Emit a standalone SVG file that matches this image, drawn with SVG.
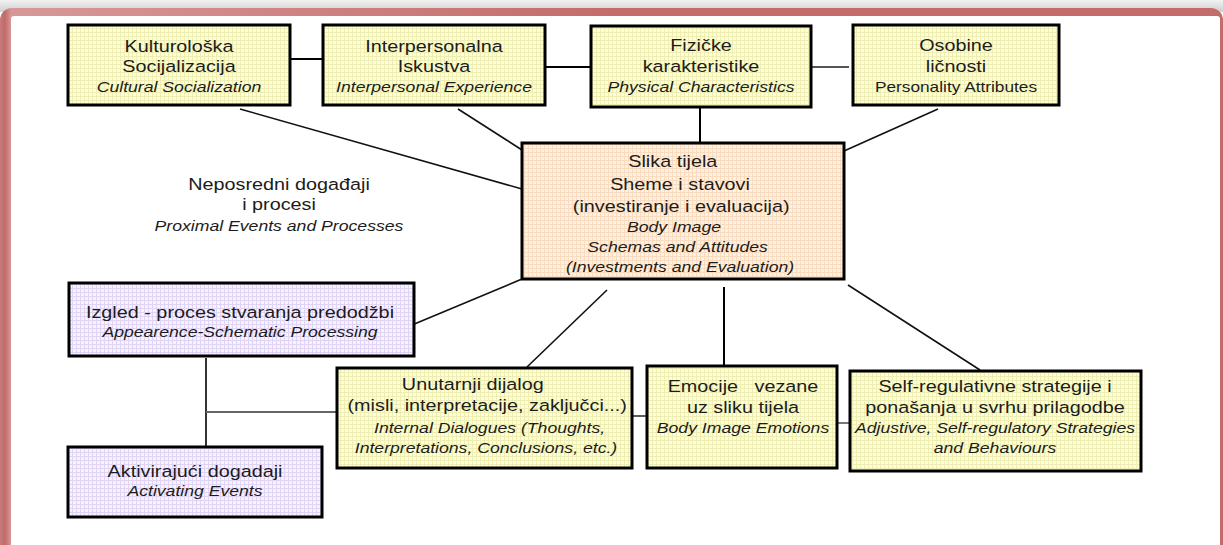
<svg xmlns="http://www.w3.org/2000/svg" width="1223" height="545" viewBox="0 0 1223 545">
<defs>
<style>
.box{stroke:#000;stroke-width:3}
.y{fill:url(#pY)}
.p{fill:url(#pP)}
.o{fill:url(#pO)}
.t{font-family:"Liberation Sans",Arial,sans-serif;font-size:16.5px;fill:#1c1c1c;text-anchor:middle}
.i{font-style:italic;font-size:14.7px}
.s{font-size:14.4px}
.c{stroke:#111;stroke-width:1.6;fill:none}
.k{stroke:#000;stroke-width:2;fill:none}
.g{stroke:#555;stroke-width:2;fill:none}
</style>
<pattern id="pY" width="4" height="4" patternUnits="userSpaceOnUse">
<rect width="4" height="4" fill="#ffffd4"/>
<path d="M0 0.5H4M0.5 0V4" stroke="#eeeeb4" stroke-width="1"/>
</pattern>
<pattern id="pP" width="4" height="4" patternUnits="userSpaceOnUse">
<rect width="4" height="4" fill="#f7f2ff"/>
<path d="M0 0.5H4M0.5 0V4" stroke="#e0d4f4" stroke-width="1"/>
</pattern>
<pattern id="pO" width="4" height="4" patternUnits="userSpaceOnUse">
<rect width="4" height="4" fill="#fff0e2"/>
<path d="M0 0.5H4M0.5 0V4" stroke="#f9dcc0" stroke-width="1"/>
</pattern>
<linearGradient id="shadow" x1="0" y1="0" x2="0" y2="1">
<stop offset="0" stop-color="#f2f2f2"/>
<stop offset="1" stop-color="#cfcfcf"/>
</linearGradient>
<linearGradient id="red" x1="0" y1="0" x2="1" y2="0">
<stop offset="0" stop-color="#c87a7a"/>
<stop offset="0.004" stop-color="#c26a6a"/>
<stop offset="0.009" stop-color="#d89898"/>
<stop offset="0.5" stop-color="#c46c6c"/>
<stop offset="1" stop-color="#c46c6c"/>
</linearGradient>
</defs>

<g id="frame">
<rect width="1223" height="545" fill="#fff"/>
<rect x="0" y="0" width="1223" height="12" fill="url(#shadow)"/>
<rect x="0" y="8" width="1223" height="600" rx="12" fill="url(#red)"/>
<rect x="11" y="16" width="1209" height="600" rx="3" fill="#fff"/>
</g>

<g id="connectors">
<line class="k" x1="290" y1="59" x2="323" y2="59"/>
<line class="k" x1="545" y1="67" x2="591" y2="67"/>
<line class="g" x1="811" y1="67" x2="849" y2="67"/>
<line class="c" x1="240" y1="109" x2="522" y2="189"/>
<line class="c" x1="458" y1="109" x2="522" y2="150"/>
<line class="k" x1="700" y1="107" x2="700" y2="143"/>
<line class="c" x1="938" y1="109" x2="844" y2="151"/>
<line class="c" x1="522" y1="279" x2="412" y2="325"/>
<line class="c" x1="607" y1="290" x2="527" y2="367"/>
<line class="k" x1="724" y1="287" x2="724" y2="366" stroke-width="2.5"/>
<line class="c" x1="848" y1="285" x2="980" y2="370"/>
<line stroke="#333" stroke-width="2" x1="206" y1="358" x2="206" y2="450"/>
<line stroke="#666" stroke-width="2" x1="206" y1="412" x2="337" y2="412"/>
<line stroke="#333" stroke-width="1.6" x1="632" y1="416" x2="647" y2="416"/>
<line stroke="#555" stroke-width="1.6" x1="837" y1="423" x2="850" y2="423"/>
</g>

<g id="n-kulturoloska">
<rect class="box y" x="68" y="25" width="222" height="80"/>
<g class="t" transform="translate(179 0) scale(1.2 1)">
<text x="0" y="52">Kulturološka</text>
<text x="0" y="72">Socijalizacija</text>
<text class="i" x="0" y="92">Cultural Socialization</text>
</g>
</g>

<g id="n-interpersonalna">
<rect class="box y" x="323" y="25" width="222" height="80"/>
<g class="t" transform="translate(434 0) scale(1.2 1)">
<text x="0" y="52">Interpersonalna</text>
<text x="0" y="72">Iskustva</text>
<text class="i" x="0" y="92">Interpersonal Experience</text>
</g>
</g>

<g id="n-fizicke">
<rect class="box y" x="591" y="26" width="220" height="81"/>
<g class="t" transform="translate(701 0) scale(1.2 1)">
<text x="0" y="51">Fizičke</text>
<text x="0" y="72">karakteristike</text>
<text class="i" x="0" y="92">Physical Characteristics</text>
</g>
</g>

<g id="n-osobine">
<rect class="box y" x="853" y="25" width="206" height="80"/>
<g class="t" transform="translate(956 0) scale(1.2 1)">
<text x="0" y="51">Osobine</text>
<text x="0" y="72">ličnosti</text>
<text class="s" x="0" y="92">Personality Attributes</text>
</g>
</g>

<g id="n-slika">
<rect class="box o" x="522" y="143" width="322" height="136"/>
<g class="t" transform="translate(680 0) scale(1.2 1)">
<text x="-6" y="167">Slika tijela</text>
<text x="0" y="190">Sheme i stavovi</text>
<text x="1" y="212">(investiranje i evaluacija)</text>
<text class="i" x="-5" y="232">Body Image</text>
<text class="i" x="-2" y="252">Schemas and Attitudes</text>
<text class="i" x="0" y="272">(Investments and Evaluation)</text>
</g>
</g>

<g id="n-neposredni">
<g class="t" transform="translate(279 0) scale(1.2 1)">
<text x="0" y="190">Neposredni događaji</text>
<text x="0" y="210">i procesi</text>
<text class="i" x="0" y="231">Proximal Events and Processes</text>
</g>
</g>

<g id="n-izgled">
<rect class="box p" x="69" y="283" width="345" height="73"/>
<g class="t" transform="translate(240 0) scale(1.2 1)">
<text x="0" y="318">Izgled - proces stvaranja predodžbi</text>
<text class="i" x="0" y="337">Appearence-Schematic Processing</text>
</g>
</g>

<g id="n-aktivirajuci">
<rect class="box p" x="68" y="447" width="254" height="70"/>
<g class="t" transform="translate(195 0) scale(1.2 1)">
<text x="0" y="477">Aktivirajući dogadaji</text>
<text class="i" x="0" y="496">Activating Events</text>
</g>
</g>

<g id="n-unutarnji">
<rect class="box y" x="337" y="368" width="295" height="100"/>
<g class="t" transform="translate(486 0) scale(1.2 1)">
<text x="-11" y="390">Unutarnji dijalog</text>
<text x="1" y="411">(misli, interpretacije, zaključci...)</text>
<text class="i" x="3" y="433">Internal Dialogues (Thoughts,</text>
<text class="i" x="0" y="453">Interpretations, Conclusions, etc.)</text>
</g>
</g>

<g id="n-emocije">
<rect class="box y" x="647" y="366" width="190" height="102"/>
<g class="t" transform="translate(743 0) scale(1.2 1)">
<text x="0" y="392" xml:space="preserve">Emocije   vezane</text>
<text x="0" y="413">uz sliku tijela</text>
<text class="i" x="0" y="433">Body Image Emotions</text>
</g>
</g>

<g id="n-self">
<rect class="box y" x="850" y="371" width="291" height="100"/>
<g class="t" transform="translate(995 0) scale(1.2 1)">
<text x="0" y="392">Self-regulativne strategije i</text>
<text x="0" y="413">ponašanja u svrhu prilagodbe</text>
<text class="i" x="0" y="433">Adjustive, Self-regulatory Strategies</text>
<text class="i" x="0" y="453">and Behaviours</text>
</g>
</g>
</svg>
